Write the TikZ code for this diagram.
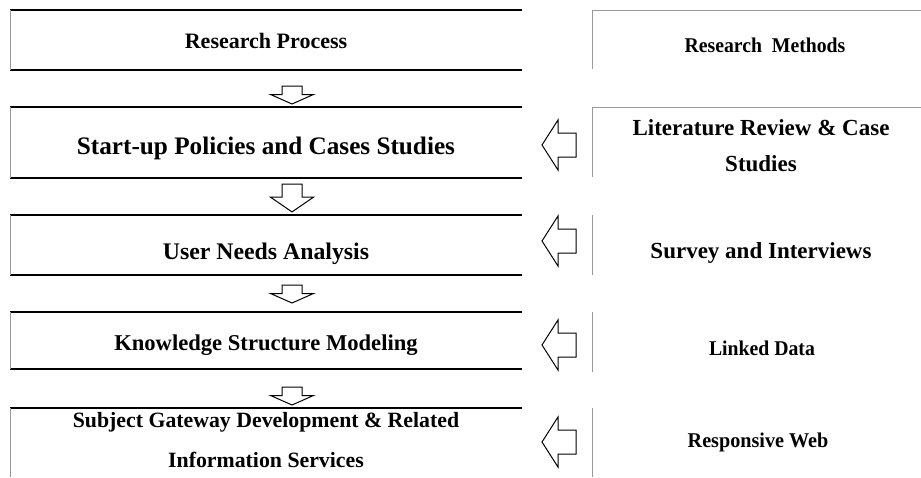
\documentclass[tikz,border=0pt]{standalone}
\usepackage{fontspec}
\setmainfont{Liberation Serif}
\usepackage{graphicx}
\newcommand{\tight}[1]{\scalebox{0.94}[1]{#1}}
\newcommand{\pts}[2]{\fontsize{#1}{#2}\selectfont\bfseries}
\begin{document}
\begin{tikzpicture}[x=1pt,y=-1pt,
  frame/.style={inner sep=0pt, outer sep=0pt},
  body/.style={font=\pts{23}{36}, align=center, inner sep=0pt},
  head/.style={font=\pts{21}{26}, inner sep=0pt},
  rule/.style={line width=2.2pt, black},
  side/.style={line width=1pt, black!40},
  flow/.style={draw=black, line width=1pt, fill=white, line join=miter},
  downarr/.pic={\draw[flow] (-10,0) -- (10,0) -- (10,8.5) -- (21.5,8.5) -- (0,18)
                 -- (-21.5,8.5) -- (-10,8.5) -- cycle;},
  leftarr/.pic={\draw[flow] (0,0) -- (16,-25) -- (16,-12) -- (34,-12) -- (34,12)
                 -- (16,12) -- (16,25) -- cycle;},
]
\useasboundingbox (0,0) rectangle (921,477);

% process column frames
\node[frame, minimum width=512pt, minimum height=60pt] (p1) at (266,40) {};
\node[frame, minimum width=512pt, minimum height=71pt] (p2) at (266,142.5) {};
\node[frame, minimum width=512pt, minimum height=60pt] (p3) at (266,245) {};
\node[frame, minimum width=512pt, minimum height=57pt] (p4) at (266,340.5) {};
\node[frame, minimum width=512pt, minimum height=69pt] (p5) at (266,442.5) {};

\foreach \b in {p1,p2,p3,p4} {
  \draw[rule] (\b.north west) -- (\b.north east);
  \draw[rule] (\b.south west) -- (\b.south east);
  \draw[side] (\b.north west) -- (\b.south west);
}
\draw[rule] (p5.north west) -- (p5.north east);
\draw[side] (p5.north west) -- (p5.south west);

% methods column frames
\node[frame, minimum width=329pt, minimum height=59pt] (m1) at (756.5,39.5) {};
\node[frame, minimum width=329pt, minimum height=70pt] (m2) at (756.5,142) {};
\node[frame, minimum width=329pt, minimum height=60pt] (m3) at (756.5,245) {};
\node[frame, minimum width=329pt, minimum height=60pt] (m4) at (756.5,342) {};
\node[frame, minimum width=329pt, minimum height=69pt] (m5) at (756.5,442.5) {};

\draw[side] (m1.south west) -- (m1.north west) -- (m1.north east);
\draw[side] (m2.south west) -- (m2.north west) -- (m2.north east);
\foreach \b in {m3,m4,m5} \draw[side] (\b.north west) -- (\b.south west);

% texts
\node[head, font=\pts{22}{26}] (t1) at (266,41) {Research Process};
\node[body, font=\pts{25.2}{30}] (t2) at (266,148) {Start-up Policies and Cases Studies};
\node[body, font=\pts{23.8}{30}] (t3) at (266,254) {User Needs Analysis};
\node[body, font=\pts{22.6}{30}] (t4) at (266,345) {Knowledge Structure Modeling};
\node[body, font=\pts{21.8}{40}] (t5) at (266,440) {Subject Gateway Development \& Related\\Information Services};

\node[head] (s1) at (765,45) {\tight{Research\ \ Methods}};
\node[body] (s2) at (761,146) {Literature Review \& Case\\Studies};
\node[body] (s3) at (761,253) {Survey and Interviews};
\node[head] (s4) at (762,348) {\tight{Linked Data}};
\node[head] (s5) at (758,442) {\scalebox{0.96}[1]{Responsive Web}};

% downward flow arrows
\pic at (292,86) {downarr};
\pic[yscale=1.55] at (292,184) {downarr};
\pic at (292,285) {downarr};
\pic at (292,387) {downarr};

% method-to-step arrows
\pic at (542,145) {leftarr};
\pic at (542,241) {leftarr};
\pic at (542,345) {leftarr};
\pic at (542,442) {leftarr};
\end{tikzpicture}
\end{document}
